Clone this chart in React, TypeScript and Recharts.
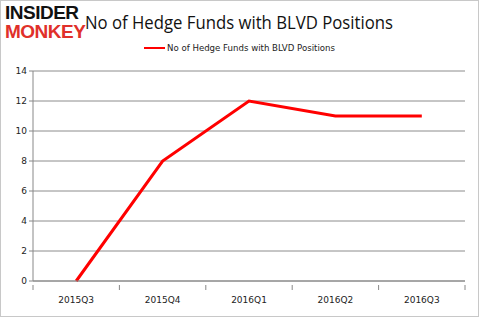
import { LineChart, Line, XAxis, YAxis, CartesianGrid, Legend } from 'recharts'

const quarters = ['2015Q3', '2015Q4', '2016Q1', '2016Q2', '2016Q3']
const funds = [0, 8, 12, 11, 11]
const yTicks = [0, 2, 4, 6, 8, 10, 12, 14]
const seriesName = 'No of Hedge Funds with BLVD Positions'

const data = quarters.map((q, i) => ({ quarter: q, funds: funds[i] }))

const axisFont = { fontFamily: 'DejaVu Sans', fontSize: 9, fill: '#222' }

// ticks sit on the category boundaries, not the centres
const QuarterTick = (props: any) => {
  const { x, y, payload, index, visibleTicksCount } = props
  const half = payload.offset ?? 0
  return (
    <g>
      <line x1={x - half} x2={x - half} y1={y - 4} y2={y + 1} stroke="#888" />
      {index === visibleTicksCount - 1 && (
        <line x1={x + half} x2={x + half} y1={y - 4} y2={y + 1} stroke="#888" />
      )}
      <text x={x} y={y + 14} textAnchor="middle" {...axisFont}>
        {payload.value}
      </text>
    </g>
  )
}

const LegendContent = () => (
  <div
    style={{
      display: 'flex',
      justifyContent: 'center',
      alignItems: 'center',
      fontFamily: 'DejaVu Sans',
      fontSize: 8.6,
      color: '#222',
    }}
  >
    <span style={{ width: 21, height: 2, background: '#ff0000', marginRight: 2 }} />
    <span>{seriesName}</span>
  </div>
)

export default function App() {
  return (
    <div
      style={{
        position: 'absolute',
        left: 0,
        top: 0,
        width: 479,
        height: 317,
        background: '#fff',
        boxSizing: 'border-box',
        border: '1px solid #c8c8c8',
      }}
    >
      <div
        style={{
          position: 'absolute',
          left: 4,
          top: 2,
          fontFamily: 'Liberation Sans',
          fontWeight: 900,
          fontSize: 19,
          lineHeight: '19px',
          letterSpacing: -0.5,
        }}
      >
        <div style={{ color: '#111' }}>INSIDER</div>
        <div style={{ color: '#e0302a' }}>MONKEY</div>
      </div>
      <div
        style={{
          position: 'absolute',
          left: 84,
          top: 8,
          fontFamily: 'Open Sans',
          fontSize: 19,
          color: '#111',
          whiteSpace: 'nowrap',
          transform: 'scaleX(0.88)',
          transformOrigin: 'left top',
        }}
      >
        {seriesName}
      </div>
      <LineChart
        width={477}
        height={315}
        data={data}
        margin={{ top: 60, right: 13, left: 0, bottom: 0 }}
        style={{ position: 'absolute', left: 0, top: 0 }}
      >
        <CartesianGrid vertical={false} stroke="#8c8c8c" />
        <Legend
          verticalAlign="top"
          align="center"
          content={<LegendContent />}
          wrapperStyle={{ top: 42, left: 0, width: 477 }}
        />
        <XAxis
          dataKey="quarter"
          scale="band"
          height={35}
          axisLine={{ stroke: '#888' }}
          tickLine={false}
          interval={0}
          tick={<QuarterTick />}
        />
        <YAxis
          width={32}
          domain={[0, 14]}
          ticks={yTicks}
          interval={0}
          axisLine={{ stroke: '#888' }}
          tickLine={{ stroke: '#888' }}
          tickSize={4}
          tick={axisFont}
        />
        <Line
          dataKey="funds"
          name={seriesName}
          stroke="#ff0000"
          strokeWidth={3}
          dot={false}
          isAnimationActive={false}
        />
      </LineChart>
    </div>
  )
}
